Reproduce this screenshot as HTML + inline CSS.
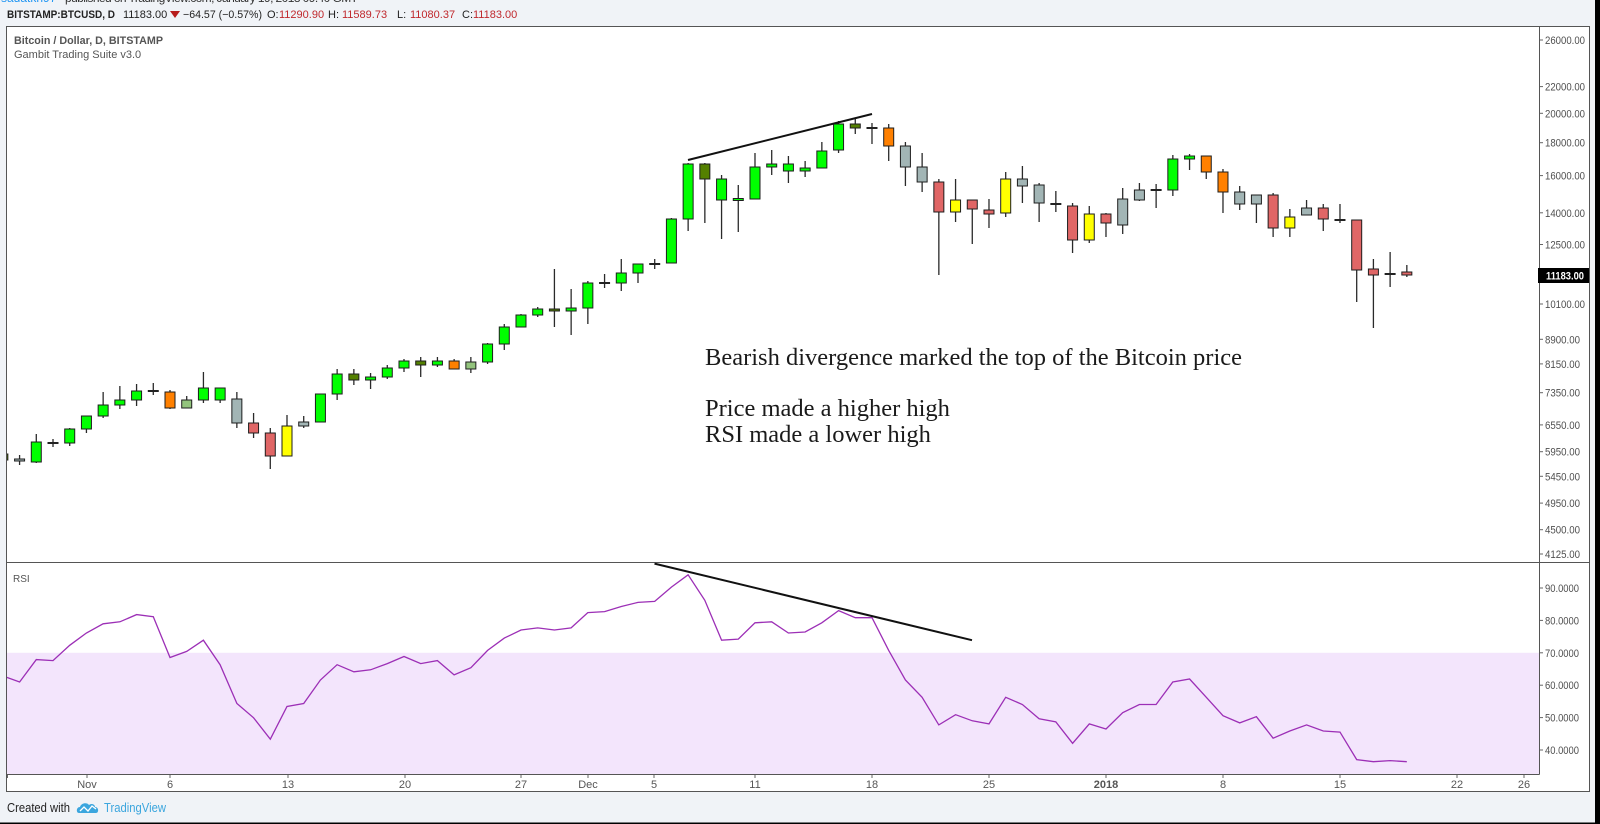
<!DOCTYPE html>
<html><head><meta charset="utf-8">
<style>
html,body{margin:0;padding:0;width:1600px;height:824px;overflow:hidden;background:#f0f3f7;}
svg{display:block;font-family:"Liberation Sans",sans-serif;}
</style></head><body>
<svg id="s" width="1600" height="824" viewBox="0 0 1600 824" xmlns="http://www.w3.org/2000/svg">
<defs>
<clipPath id="cp"><rect x="7" y="27" width="1532" height="535"/></clipPath>
<clipPath id="cr"><rect x="7" y="563" width="1532" height="211"/></clipPath>
</defs>
<rect width="1600" height="824" fill="#f0f3f7"/>
<rect x="1595" y="0" width="5" height="824" fill="#000"/>
<rect x="0" y="822.5" width="1600" height="1.5" fill="#000"/>

<!-- header -->
<text x="1" y="2" font-size="12" fill="#2196f3">sadatkh97</text>
<text x="65" y="2" font-size="12" fill="#333" textLength="293">published on TradingView.com, January 19, 2018 09:40 GMT</text>
<g font-size="11" fill="#222">
<text x="7" y="18" font-weight="bold" textLength="108" lengthAdjust="spacingAndGlyphs">BITSTAMP:BTCUSD, D</text>
<text x="123" y="18">11183.00</text>
<polygon points="170,11 180,11 175,18" fill="#b71c1c"/>
<text x="183" y="18" textLength="79" lengthAdjust="spacingAndGlyphs">−64.57 (−0.57%)</text>
<text x="267" y="18">O:</text><text x="279" y="18" fill="#c0282d">11290.90</text>
<text x="328" y="18">H:</text><text x="342" y="18" fill="#c0282d">11589.73</text>
<text x="397" y="18">L:</text><text x="410" y="18" fill="#c0282d">11080.37</text>
<text x="462" y="18">C:</text><text x="473" y="18" fill="#c0282d">11183.00</text>
</g>

<!-- panel -->
<rect x="6.5" y="26.5" width="1583" height="765" fill="#fff" stroke="#555" stroke-width="1"/>
<rect x="7" y="652.8" width="1532" height="121.2" fill="#f3e5fc"/>
<line x1="1539.5" y1="26" x2="1539.5" y2="774.5" stroke="#555" stroke-width="1"/>
<line x1="7" y1="562.5" x2="1589" y2="562.5" stroke="#555" stroke-width="1"/>
<line x1="7" y1="774.5" x2="1539.5" y2="774.5" stroke="#555" stroke-width="1"/>

<text x="14" y="44" font-size="11" font-weight="bold" fill="#555" textLength="149" lengthAdjust="spacingAndGlyphs">Bitcoin / Dollar, D, BITSTAMP</text>
<text x="14" y="58" font-size="11" fill="#555">Gambit Trading Suite v3.0</text>
<text x="13" y="582" font-size="10" fill="#555">RSI</text>

<!-- price axis -->
<g font-size="11" fill="#4f4f4f" stroke="none" lengthAdjust="spacingAndGlyphs">
<text x="1545" y="44" textLength="40" lengthAdjust="spacingAndGlyphs">26000.00</text>
<text x="1545" y="90.6" textLength="40" lengthAdjust="spacingAndGlyphs">22000.00</text>
<text x="1545" y="117.3" textLength="40" lengthAdjust="spacingAndGlyphs">20000.00</text>
<text x="1545" y="146.7" textLength="40" lengthAdjust="spacingAndGlyphs">18000.00</text>
<text x="1545" y="179.6" textLength="40" lengthAdjust="spacingAndGlyphs">16000.00</text>
<text x="1545" y="216.8" textLength="40" lengthAdjust="spacingAndGlyphs">14000.00</text>
<text x="1545" y="248.5" textLength="40" lengthAdjust="spacingAndGlyphs">12500.00</text>
<text x="1545" y="308" textLength="40" lengthAdjust="spacingAndGlyphs">10100.00</text>
<text x="1545" y="343.3" textLength="35" lengthAdjust="spacingAndGlyphs">8900.00</text>
<text x="1545" y="367.9" textLength="35" lengthAdjust="spacingAndGlyphs">8150.00</text>
<text x="1545" y="396.7" textLength="35" lengthAdjust="spacingAndGlyphs">7350.00</text>
<text x="1545" y="428.9" textLength="35" lengthAdjust="spacingAndGlyphs">6550.00</text>
<text x="1545" y="455.7" textLength="35" lengthAdjust="spacingAndGlyphs">5950.00</text>
<text x="1545" y="480.3" textLength="35" lengthAdjust="spacingAndGlyphs">5450.00</text>
<text x="1545" y="507.1" textLength="35" lengthAdjust="spacingAndGlyphs">4950.00</text>
<text x="1545" y="533.7" textLength="35" lengthAdjust="spacingAndGlyphs">4500.00</text>
<text x="1545" y="558" textLength="35" lengthAdjust="spacingAndGlyphs">4125.00</text>
<text x="1545" y="592" textLength="34" lengthAdjust="spacingAndGlyphs">90.0000</text>
<text x="1545" y="624.4" textLength="34" lengthAdjust="spacingAndGlyphs">80.0000</text>
<text x="1545" y="656.8" textLength="34" lengthAdjust="spacingAndGlyphs">70.0000</text>
<text x="1545" y="689.2" textLength="34" lengthAdjust="spacingAndGlyphs">60.0000</text>
<text x="1545" y="721.6" textLength="34" lengthAdjust="spacingAndGlyphs">50.0000</text>
<text x="1545" y="754" textLength="34" lengthAdjust="spacingAndGlyphs">40.0000</text>
</g>
<g stroke="#666" stroke-width="1">
<line x1="1540" y1="40" x2="1543" y2="40"/><line x1="1540" y1="86.6" x2="1543" y2="86.6"/>
<line x1="1540" y1="113.3" x2="1543" y2="113.3"/><line x1="1540" y1="142.7" x2="1543" y2="142.7"/>
<line x1="1540" y1="175.6" x2="1543" y2="175.6"/><line x1="1540" y1="212.8" x2="1543" y2="212.8"/>
<line x1="1540" y1="244.5" x2="1543" y2="244.5"/><line x1="1540" y1="304" x2="1543" y2="304"/>
<line x1="1540" y1="339.3" x2="1543" y2="339.3"/><line x1="1540" y1="363.9" x2="1543" y2="363.9"/>
<line x1="1540" y1="392.7" x2="1543" y2="392.7"/><line x1="1540" y1="424.9" x2="1543" y2="424.9"/>
<line x1="1540" y1="451.7" x2="1543" y2="451.7"/><line x1="1540" y1="476.3" x2="1543" y2="476.3"/>
<line x1="1540" y1="503.1" x2="1543" y2="503.1"/><line x1="1540" y1="529.7" x2="1543" y2="529.7"/>
<line x1="1540" y1="554" x2="1543" y2="554"/>
<line x1="1540" y1="588" x2="1543" y2="588"/><line x1="1540" y1="620.4" x2="1543" y2="620.4"/>
<line x1="1540" y1="652.8" x2="1543" y2="652.8"/><line x1="1540" y1="685.2" x2="1543" y2="685.2"/>
<line x1="1540" y1="717.6" x2="1543" y2="717.6"/><line x1="1540" y1="750" x2="1543" y2="750"/>
</g>
<rect x="1538" y="268" width="51" height="15" fill="#000"/>
<text x="1546" y="279.6" font-size="11" font-weight="bold" fill="#fff" textLength="38" lengthAdjust="spacingAndGlyphs">11183.00</text>

<!-- time axis -->
<g font-size="11" fill="#555" text-anchor="middle">
<text x="87" y="788">Nov</text>
<text x="170" y="788">6</text>
<text x="288" y="788">13</text>
<text x="405" y="788">20</text>
<text x="521" y="788">27</text>
<text x="588" y="788">Dec</text>
<text x="654" y="788">5</text>
<text x="755" y="788">11</text>
<text x="872" y="788">18</text>
<text x="989" y="788">25</text>
<text x="1106" y="788" font-weight="bold">2018</text>
<text x="1223" y="788">8</text>
<text x="1340" y="788">15</text>
<text x="1457" y="788">22</text>
<text x="1524" y="788">26</text>
</g>
<g stroke="#666" stroke-width="1">
<line x1="7.5" y1="775" x2="7.5" y2="778"/>
<line x1="87" y1="775" x2="87" y2="778"/><line x1="170" y1="775" x2="170" y2="778"/>
<line x1="288" y1="775" x2="288" y2="778"/><line x1="405" y1="775" x2="405" y2="778"/>
<line x1="521" y1="775" x2="521" y2="778"/><line x1="588" y1="775" x2="588" y2="778"/>
<line x1="654" y1="775" x2="654" y2="778"/><line x1="755" y1="775" x2="755" y2="778"/>
<line x1="872" y1="775" x2="872" y2="778"/><line x1="989" y1="775" x2="989" y2="778"/>
<line x1="1106" y1="775" x2="1106" y2="778"/><line x1="1223" y1="775" x2="1223" y2="778"/>
<line x1="1340" y1="775" x2="1340" y2="778"/><line x1="1457" y1="775" x2="1457" y2="778"/>
<line x1="1524" y1="775" x2="1524" y2="778"/>
</g>

<!-- candles -->
<g id="candles" clip-path="url(#cp)"></g>
<g clip-path="url(#cr)"><polyline id="rsi" fill="none" stroke="#9c2fb6" stroke-width="1.3" points=""/></g>

<line x1="688" y1="160" x2="872" y2="114" stroke="#111" stroke-width="2"/>
<line x1="654.5" y1="563.6" x2="972" y2="640.2" stroke="#111" stroke-width="2"/>

<g font-family="'Liberation Serif', serif" font-size="24.5" fill="#1a1a1a">
<text x="705" y="365">Bearish divergence marked the top of the Bitcoin price</text>
<text x="705" y="416">Price made a higher high</text>
<text x="705" y="442">RSI made a lower high</text>
</g>

<!-- footer -->
<text x="7" y="812" font-size="12.5" fill="#222" textLength="63" lengthAdjust="spacingAndGlyphs">Created with</text>
<path d="M79,813 C76,813 76,807 80,807 C81,803 87,802 89,805 C91,803 95,804 95,807 C99,807 99,813 96,813 Z" fill="#3ba6de"/>
<polyline points="80,811 84,807 88,811 92,806 96,809" fill="none" stroke="#fff" stroke-width="1.3"/>
<text x="104" y="812" font-size="12.5" fill="#3ba6de" textLength="62" lengthAdjust="spacingAndGlyphs">TradingView</text>
</svg>
<script>
const D=[
[-10,454,460,451,462,'o'],[-9,459,461,455,465,'gr'],[-8,442,462,434,463,'g'],[-7,443,443,439,447,'k'],
[-6,429,443,428,446,'g'],[-5,416,429,416,433,'g'],[-4,405,416,392,418,'g'],[-3,400,405,386,409,'g'],
[-2,391,400,384,406,'g'],[-1,391,391,383,395,'k'],[0,392,408,390,409,'or'],[1,400,408,396,408,'lg'],
[2,388,400,372,403,'g'],[3,388,400,388,403,'g'],[4,399,423,392,428,'gr'],[5,423,433,413,438,'r'],
[6,433,456,428,469,'r'],[7,426,456,415,456,'y'],[8,422,426,416,428,'gr'],[9,394,422,394,422,'g'],
[10,374,394,369,400,'g'],[11,374,380,369,385,'o'],[12,377,380,373,389,'g'],[13,368,377,365,379,'g'],
[14,361,368,359,372,'g'],[15,361,365,357,377,'o'],[16,361,365,357,367,'g'],[17,361,369,359,369,'or'],
[18,362,369,357,373,'lg'],[19,344,362,343,364,'g'],[20,327,344,324,350,'g'],[21,315,327,314,327,'g'],
[22,309,315,307,317,'g'],[23,309,311,269,327,'o'],[24,308,311,289,335,'g'],[25,283,308,281,324,'g'],
[26,283,283,274,288,'k'],[27,273,283,259,291,'g'],[28,264,273,264,283,'g'],[29,264,264,259,269,'k'],
[30,219,263,218,263,'g'],[31,164,219,163,231,'g'],[32,164,179,163,223,'o'],[33,179,200,175,239,'g'],
[34,198.5,200.5,185,232,'g'],[35,167,199,153,199,'g'],[36,164,167,150,175,'g'],[37,164,171,156,183,'g'],
[38,168,171,161,177,'g'],[39,151,168,142,168,'g'],[40,124,150,121,153,'g'],[41,124,128,118,134,'o'],
[42,128,128,123,144,'k'],[43,128,146,124,161,'or'],[44,146,167,142,186,'gr'],[45,167,182,153,192,'gr'],
[46,182,212,179,275,'r'],[47,200,212,179,222,'y'],[48,200,209,200,244,'r'],[49,210,214,199,228,'r'],
[50,179,213,172,217,'y'],[51,179,186,166,203,'gr'],[52,185,203,183,222,'gr'],[53,204,204,191,212,'k'],
[54,206,240,203,253,'r'],[55,214,240,206,243,'y'],[56,214,223,213,237,'r'],[57,199,225,188,234,'gr'],
[58,190,200,183,201,'gr'],[59,190,190,184,208,'k'],[60,159,190,155,196,'g'],[61,156,159,154,170,'g'],
[62,156,172,156,179,'or'],[63,172,192,169,213,'or'],[64,192,204,186,210,'gr'],[65,195,204,195,223,'gr'],
[66,195,228,193,237,'r'],[67,217,228,209,237,'y'],[68,208,215,200,215,'gr'],[69,208,219,204,231,'r'],
[70,220,220,204,223,'k'],[71,220,270,220,302,'r'],[72,269,275,259,328,'r'],[73,274,274,252,287,'k'],
[74,272,275,265,277,'r']];
const col={g:'#00ff00',o:'#548000',r:'#e06666',y:'#ffff00',or:'#ff8000',gr:'#a2b5b5',lg:'#93c47d',k:'#222'};
const X=n=>170+n*16.714;
const NS='http://www.w3.org/2000/svg';
const g=document.getElementById('candles');
function el(t,a){const e=document.createElementNS(NS,t);for(const k in a)e.setAttribute(k,a[k]);g.appendChild(e);return e;}
for(const [n,bt,bb,wt,wb,c] of D){
  const x=X(n);
  el('line',{x1:x,y1:wt,x2:x,y2:wb,stroke:'#2a2a2a','stroke-width':1.3});
  if(c==='k'){el('rect',{x:x-5.5,y:bt-1,width:11,height:2,fill:'#222'});}
  else{const hh=Math.max(bb-bt,2);el('rect',{x:x-5,y:bt,width:10,height:hh,fill:col[c],stroke:'#1e1e1e','stroke-width':1});}
}
const R=[662,668,646,647,632,620,611,609,602,604,
644,638,627,651,689,703,724,692,689,666,
651,658,656,650,643,650,647,661,654,637,
625,617,615,617,615,600,599,594,590,589,
575,563,588,627,626,610,609,620,619,610,
598,605,605,637,666,683,710,700,706,709,
683,690,704,707,728,709,714,698,690,690,
668,665,683,701,708,702,723,716,710,716,
717,744,746,745,746];
document.getElementById('rsi').setAttribute('points',R.map((v,i)=>X(i-10).toFixed(1)+','+(v*1.021).toFixed(1)).join(' '));
</script>
</body></html>
